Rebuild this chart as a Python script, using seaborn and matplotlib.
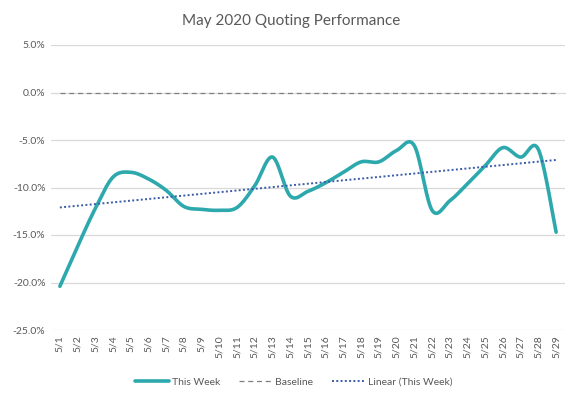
import numpy as np
import pandas as pd
import matplotlib
matplotlib.use("Agg")
import matplotlib.pyplot as plt
import seaborn as sns
from matplotlib.ticker import FuncFormatter, FixedLocator

sns.set_theme(style="white")
plt.rcParams['font.family'] = ['Lato', 'DejaVu Sans']

# ---- data ----
dates = ["5/%d" % d for d in range(1, 30)]
this_week = [-20.4, -16.2, -12.2, -8.9, -8.4, -9.1, -10.3, -12.0, -12.3, -12.4,
             -12.1, -9.8, -6.8, -10.9, -10.4, -9.5, -8.4, -7.3, -7.3, -6.1,
             -5.6, -12.4, -11.4, -9.6, -7.7, -5.8, -6.8, -6.0, -14.7]
baseline = [0.0] * 29
trend_dates = ["5/1", "5/29"]
trend_values = [-12.1, -7.1]   # Linear (This Week) endpoints
y_ticks = [5, 0, -5, -10, -15, -20, -25]

TEAL = "#2DA9AE"
GRAY = "#7F7F7F"
BLUE = "#3A5BA8"
TXT = "#595959"
GRID = "#D9D9D9"

x = np.arange(len(dates))
y = np.array(this_week)

# Excel-style smoothed line (Catmull-Rom bezier) for rendering
def smooth(xv, yv, n=30):
    P = np.column_stack([xv, yv]).astype(float)
    P = np.vstack([P[0], P, P[-1]])
    out = []
    for i in range(1, len(P) - 2):
        p0, p1, p2, p3 = P[i - 1], P[i], P[i + 1], P[i + 2]
        c1 = p1 + (p2 - p0) / 6.0
        c2 = p2 - (p3 - p1) / 6.0
        t = np.linspace(0, 1, n, endpoint=False)[:, None]
        b = ((1 - t) ** 3) * p1 + 3 * ((1 - t) ** 2) * t * c1 + 3 * (1 - t) * t ** 2 * c2 + t ** 3 * p2
        out.append(b)
    out.append(P[-2][None, :])
    return np.vstack(out)

sm = smooth(x, y)
tx = [dates.index(d) for d in trend_dates]

fig = plt.figure(figsize=(5.75, 4.01), dpi=100)
ax = fig.add_axes([51 / 575, 1 - 330 / 401, (565 - 51) / 575, (330 - 45) / 401])

# gridlines
for v in y_ticks:
    if v != 0:
        ax.axhline(v, color=GRID, lw=0.9, zorder=0)

sns.lineplot(x=x, y=baseline, ax=ax, color=GRAY, lw=0.9, linestyle=(0, (4, 3)),
             label="Baseline", zorder=3)
sns.lineplot(x=sm[:, 0], y=sm[:, 1], ax=ax, color=TEAL, lw=2.6, sort=False,
             label="This Week", zorder=4)
sns.lineplot(x=tx, y=trend_values, ax=ax, color=BLUE, lw=1.4, linestyle=(0, (1, 1.2)),
             label="Linear (This Week)", zorder=5)

ax.set_xlim(-0.5, len(dates) - 0.5)
ax.set_ylim(-25, 5)
ax.set_yticks(y_ticks)
ax.yaxis.set_major_formatter(FuncFormatter(lambda v, p: "%.1f%%" % v))
ax.tick_params(axis='y', length=0, labelsize=7.5, labelcolor=TXT, pad=4)

for s in ["top", "right", "left"]:
    ax.spines[s].set_visible(False)
ax.spines["bottom"].set_position(("data", 0))
ax.spines["bottom"].set_color(GRID)
ax.spines["bottom"].set_linewidth(0.9)
ax.xaxis.set_major_locator(FixedLocator(np.arange(-0.5, len(dates), 1.0)))
ax.tick_params(axis='x', length=4, color=GRID, width=0.9, direction='out', labelbottom=False)

sec = ax.secondary_xaxis(0)
sec.set_xticks(x)
sec.set_xticklabels(dates, rotation=90)
sec.tick_params(axis='x', length=0, labelsize=7.5, labelcolor=TXT, pad=4)
sec.spines["bottom"].set_visible(False)

ax.set_xlabel("")
ax.set_ylabel("")

fig.text(291 / 575, 1 - 21 / 401, "May 2020 Quoting Performance", ha="center", va="center",
         fontsize=11, color=TXT)

h, l = ax.get_legend_handles_labels()
order = [l.index("This Week"), l.index("Baseline"), l.index("Linear (This Week)")]
ax.legend([h[i] for i in order], [l[i] for i in order], loc="center",
          bbox_to_anchor=(294 / 575, 1 - 382 / 401), bbox_transform=fig.transFigure,
          ncol=3, frameon=False, fontsize=7.5, labelcolor=TXT, handlelength=3.2,
          columnspacing=1.8, handletextpad=0.3)

fig.savefig("out.png", dpi=100)
